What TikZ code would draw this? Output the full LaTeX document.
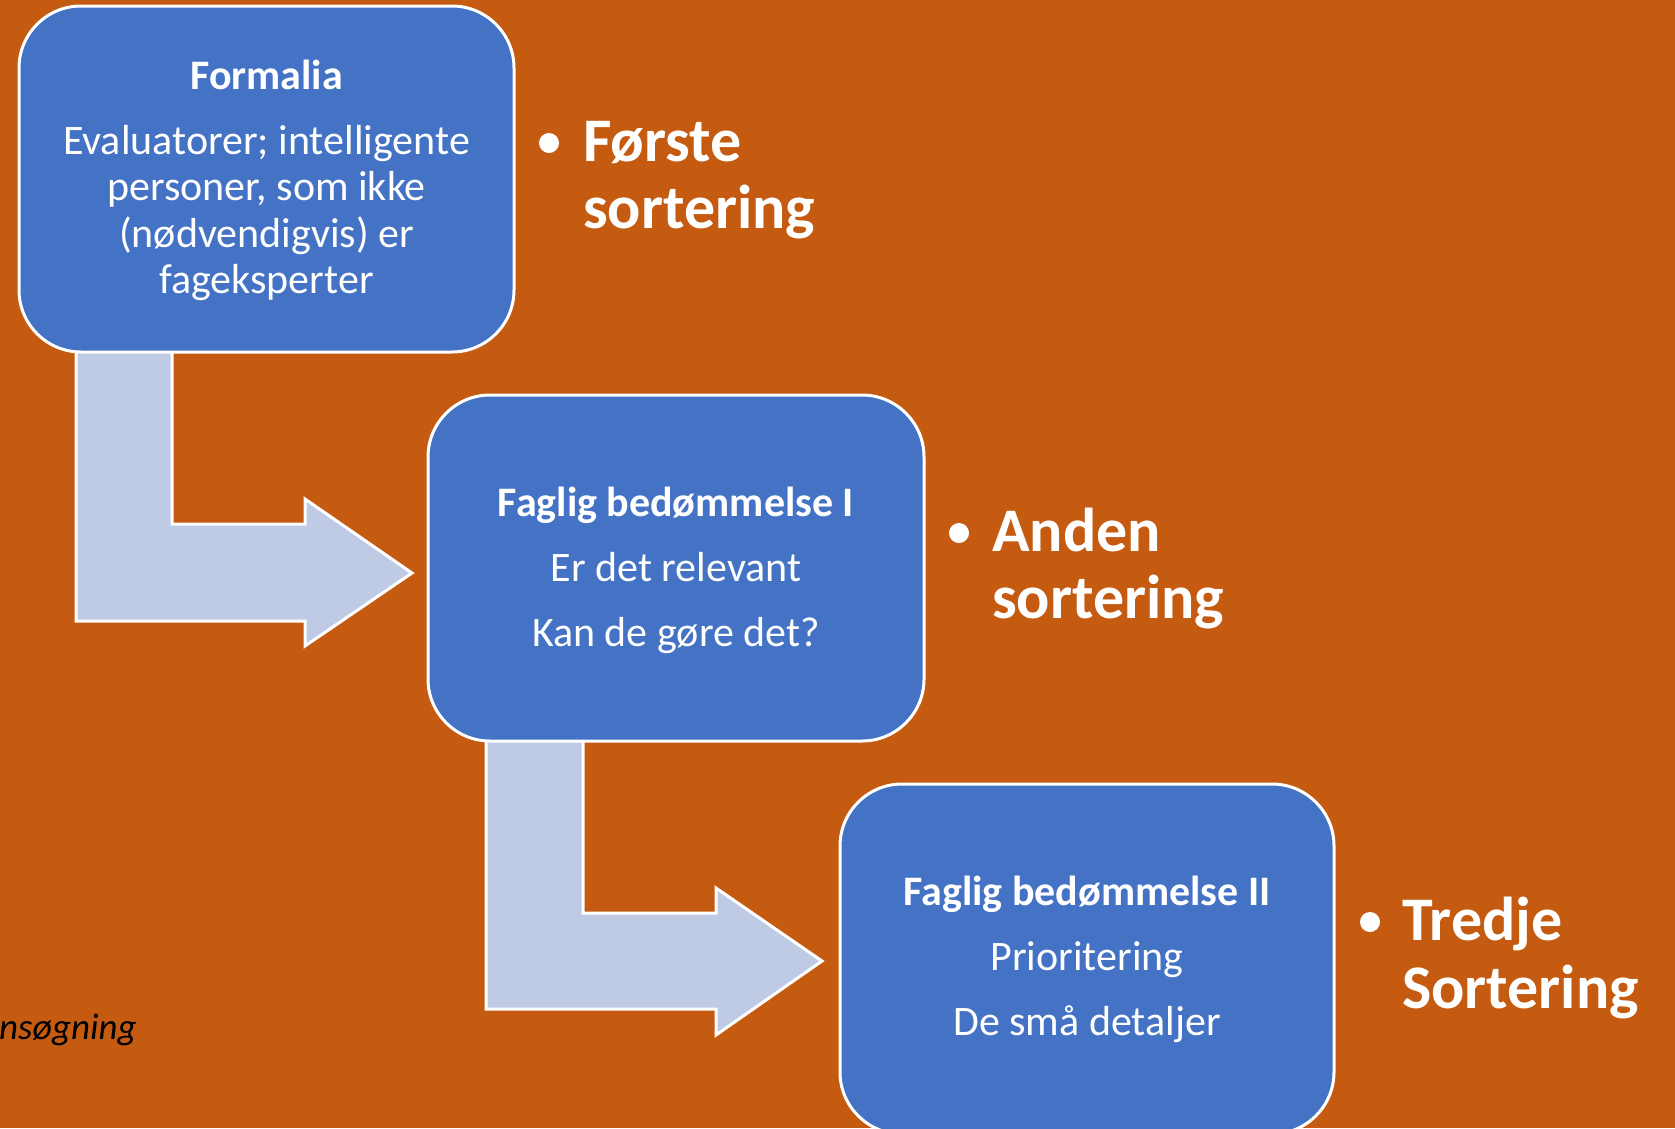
\documentclass[tikz,border=0pt]{standalone}
\usepackage{fontspec}
\setmainfont{Carlito}
\definecolor{bg}{RGB}{197,90,17}
\definecolor{boxblue}{RGB}{68,114,196}
\definecolor{arrowfill}{RGB}{191,202,228}
\begin{document}
\begin{tikzpicture}[x=1pt,y=-1pt,
  box/.style={draw=white,line width=3pt,fill=boxblue,rounded corners=62pt,inner sep=0pt},
  arrowshape/.style={fill=arrowfill,draw=white,line width=3pt,line join=miter},
  body/.style={text=white,font=\fontsize{42}{46.5}\selectfont,anchor=base,inner sep=0pt},
  title/.style={text=white,font=\fontsize{42}{46.5}\selectfont\bfseries,anchor=base,inner sep=0pt},
  bul/.style={text=white,font=\fontsize{62}{67}\selectfont\bfseries,anchor=base west,inner sep=0pt},
  dot/.style={circle,fill=white,minimum size=20pt,inner sep=0pt}]
\fill[bg] (0,0) rectangle (1675,1128);
\useasboundingbox (0,0) rectangle (1675,1128);
% bent arrows
\draw[arrowshape] (76,345) -- (172,345) -- (172,524) -- (305,524) -- (305,499) -- (412,573)
  -- (305,646) -- (305,621) -- (76,621) -- cycle;
\draw[arrowshape] (486,734) -- (583,734) -- (583,913) -- (716,913) -- (716,888) -- (822,961)
  -- (716,1035) -- (716,1009) -- (486,1009) -- cycle;
% boxes
\node[box,minimum width=495pt,minimum height=346pt] (b1) at (266.5,179) {};
\node[box,minimum width=496pt,minimum height=346pt] (b2) at (676,568) {};
\node[box,minimum width=494pt,minimum height=350pt] (b3) at (1087,959) {};
% box 1 text
\node[title] (t1) at (266.5,89) {Formalia};
\node[body] (t1a) at (266.5,154) {Evaluatorer; intelligente};
\node[body] (t1b) at (266.5,200.5) {personer, som ikke};
\node[body] (t1c) at (266.5,247) {(nødvendigvis) er};
\node[body] (t1d) at (266.5,293.5) {fageksperter};
% box 2 text
\node[title] (t2) at (676,516) {Faglig bedømmelse I};
\node[body] (t2a) at (676,581) {Er det relevant};
\node[body] (t2b) at (676,646) {Kan de gøre det?};
% box 3 text
\node[title] (t3) at (1087,905) {Faglig bedømmelse II};
\node[body] (t3a) at (1087,970) {Prioritering};
\node[body] (t3b) at (1087,1035) {De små detaljer};
% bullets
\node[dot] (d1) at (549,143) {};
\node[bul] (s1a) at (583,161) {Første};
\node[bul] (s1b) at (583,228) {sortering};
\node[dot] (d2) at (959,533) {};
\node[bul] (s2a) at (992,551) {Anden};
\node[bul] (s2b) at (992,618) {sortering};
\node[dot] (d3) at (1370,922) {};
\node[bul] (s3a) at (1402,940) {Tredje};
\node[bul] (s3b) at (1402,1008) {Sortering};
% bottom-left note
\node[anchor=base east,font=\fontsize{37}{44}\selectfont\itshape,inner sep=0pt,text=black] (note) at (137,1039) {nsøgning};
\end{tikzpicture}
\end{document}
